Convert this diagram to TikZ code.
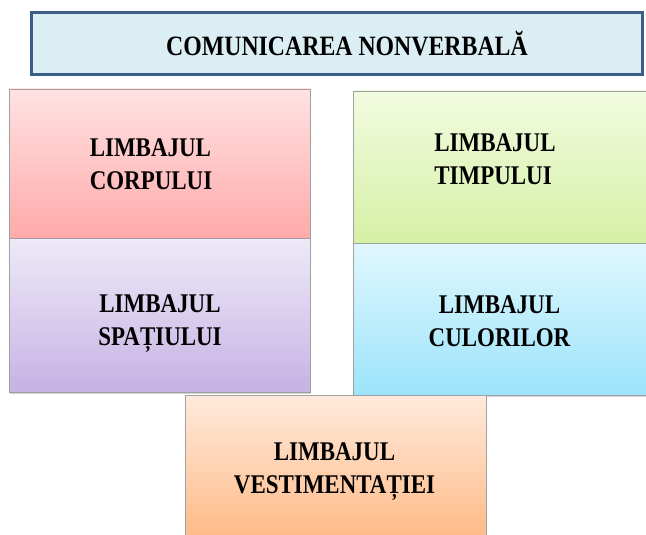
\documentclass[tikz,border=0pt]{standalone}
\usepackage{fontspec}
\setmainfont[FakeStretch=0.85]{Liberation Serif}
\usetikzlibrary{shadows}
\definecolor{tframe}{RGB}{62,94,138}
\definecolor{tfill}{RGB}{218,238,243}
\definecolor{bframe}{RGB}{160,160,160}

\begin{document}
\begin{tikzpicture}[
    x=1pt, y=-1pt,
    titlebox/.style={rectangle, draw=tframe, fill=tfill, line width=3pt, minimum width=611pt, minimum height=62pt, inner sep=0pt},
    areabox/.style={rectangle, draw=bframe, thin, inner sep=0pt, drop shadow={shadow xshift=1pt, shadow yshift=-1.5pt, opacity=.35}},
    areatext/.style={font=\bfseries\fontsize{27}{33}\selectfont, align=center, inner sep=0pt, text depth=0pt},
    ]
\useasboundingbox (0,0) rectangle (646,535);

\node[titlebox] (title) at (336.5,43.5) {};
\node[areatext, font=\bfseries\fontsize{28}{33}\selectfont] (title-t) at (347,43) {COMUNICAREA NONVERBALĂ};

\node[areabox, minimum width=301pt, minimum height=149pt, top color={rgb,255:red,255;green,226;blue,226}, bottom color={rgb,255:red,255;green,170;blue,170}] (corp) at (159.5,163.5) {};
\node[areabox, minimum width=293pt, minimum height=152pt, top color={rgb,255:red,242;green,251;blue,224}, bottom color={rgb,255:red,214;green,240;blue,166}] (timp) at (499.5,167) {};
\node[areabox, minimum width=301pt, minimum height=154pt, top color={rgb,255:red,238;green,234;blue,248}, bottom color={rgb,255:red,198;green,178;blue,228}] (spatiu) at (159.5,315) {};
\node[areabox, minimum width=293pt, minimum height=152pt, top color={rgb,255:red,224;green,247;blue,255}, bottom color={rgb,255:red,156;green,228;blue,250}] (culori) at (499.5,319) {};
\node[areabox, minimum width=301pt, minimum height=145pt, top color={rgb,255:red,255;green,234;blue,220}, bottom color={rgb,255:red,255;green,186;blue,134}] (vest) at (335.5,467.5) {};

\node[areatext, align=left] (corp-t) at (151,164.5) {LIMBAJUL\\CORPULUI};
\node[areatext, align=left] (timp-t) at (495,159) {LIMBAJUL\\TIMPULUI};
\node[areatext] (spatiu-t) at (160,320.5) {LIMBAJUL\\SPAȚIULUI};
\node[areatext] (culori-t) at (499.5,321) {LIMBAJUL\\CULORILOR};
\node[areatext] (vest-t) at (334.5,468) {LIMBAJUL\\VESTIMENTAȚIEI};

\end{tikzpicture}
\end{document}
